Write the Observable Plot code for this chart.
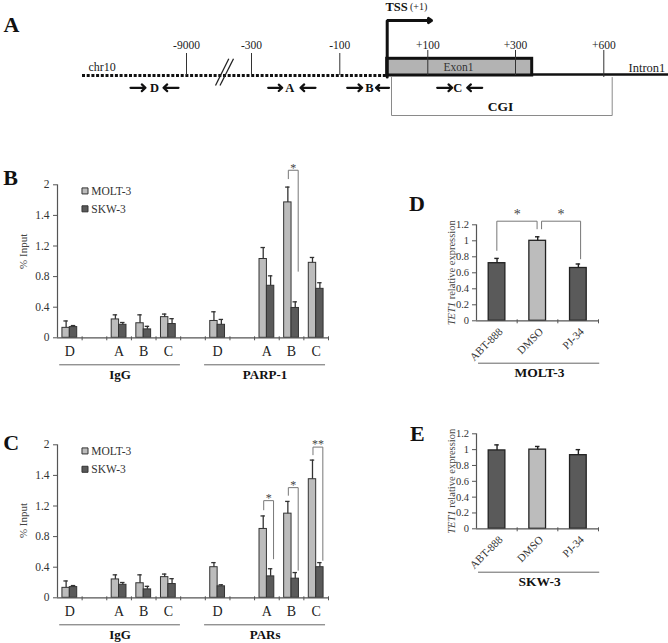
<!DOCTYPE html>
<html>
<head>
<meta charset="utf-8">
<script src="https://cdn.jsdelivr.net/npm/d3@7"></script>
<script src="https://cdn.jsdelivr.net/npm/@observablehq/plot@0.6"></script>
<style>
  html, body { margin: 0; padding: 0; background: #fff; }
  #fig { position: relative; width: 668px; height: 643px; overflow: hidden; font-family: "Liberation Serif", serif; }
  #fig svg { position: absolute; overflow: visible; }
  .plabel { position: absolute; font: bold 22px/22px "Liberation Serif", serif; color: #111; }
</style>
</head>
<body>
<div id="fig"></div>
<script>
// ================= DATA =================
// Panel A (schematic of the TET1 locus)
const coordLabels = ["-9000", "-300", "-100", "+100", "+300", "+600"];
const primerNames = ["D", "A", "B", "C"];

// Panels B and C (ChIP, % input)
const slotLabels = ["D", "", "A", "B", "C", "", "D", "", "A", "B", "C"];
const cellLines = ["MOLT-3", "SKW-3"];
const chipYTicks = [0, 0.4, 0.8, 1.2, 1.6, 2];
const chipYTickLabels = ["0", "0.4", "0.8", "1.2", "1.4", "2"];
const groupsB = ["IgG", "PARP-1"];
const groupsC = ["IgG", "PARs"];

// order: IgG D, A, B, C, then antibody D, A, B, C
const bMolt   = [0.13, 0.24, 0.19, 0.27, 0.22, 1.03, 1.77, 0.98];
const bMoltSd = [0.09, 0.06, 0.11, 0.04, 0.12, 0.15, 0.20, 0.07];
const bSkw    = [0.14, 0.17, 0.11, 0.18, 0.17, 0.68, 0.39, 0.64];
const bSkwSd  = [0.02, 0.03, 0.04, 0.07, 0.07, 0.13, 0.08, 0.08];

const cMolt   = [0.13, 0.24, 0.19, 0.27, 0.40, 0.90, 1.10, 1.55];
const cMoltSd = [0.09, 0.06, 0.11, 0.04, 0.06, 0.17, 0.16, 0.25];
const cSkw    = [0.14, 0.17, 0.11, 0.18, 0.15, 0.28, 0.25, 0.40];
const cSkwSd  = [0.02, 0.03, 0.04, 0.07, 0.02, 0.10, 0.08, 0.06];

// significance brackets: slot, label, bracket top, left-leg end, right-leg end
const sigB = [{slot: 9, label: "*", top: 2.19, left: 2.08, right: 0.87}];
const sigC = [
  {slot: 8, label: "*", top: 1.27, left: 1.15, right: 0.51},
  {slot: 9, label: "*", top: 1.44, left: 1.34, right: 0.36},
  {slot: 10, label: "**", top: 1.97, left: 1.87, right: 0.49}
];

// Panels D and E (TET1 relative expression)
const treatments = ["ABT-888", "DMSO", "PJ-34"];
const exprYTicks = [0, 0.2, 0.4, 0.6, 0.8, 1, 1.2];
const exprYTickLabels = ["0", "0.2", "0.4", "0.6", "0.8", "1", "1.2"];
const dValues = [0.72, 1.00, 0.66];
const dErr    = [0.06, 0.05, 0.05];
const eValues = [0.99, 1.00, 0.93];
const eErr    = [0.07, 0.04, 0.07];
const sigD = [
  {from: 0, to: 1, label: "*", top: 1.245, left: 0.88, right: 1.15},
  {from: 1, to: 2, label: "*", top: 1.245, left: 1.15, right: 0.775}
];

// ================= LAYOUT / STYLE =================
const SERIF = "Liberation Serif, Times New Roman, serif";
const LIGHT = "#bcbcbc", DARK = "#5a5a5a", EDGE = "#333";
const fig = document.getElementById("fig");
function place(svg, left, top) {
  svg.style.left = left + "px";
  svg.style.top = top + "px";
  fig.appendChild(svg);
  return svg;
}
function panelLabel(t, left, top) {
  const d = document.createElement("div");
  d.className = "plabel";
  d.textContent = t;
  d.style.left = left + "px";
  d.style.top = top + "px";
  fig.appendChild(d);
}

// ---------- Panel A ----------
const tickPos = {"-9000": 186, "-300": 251, "-100": 339.3, "+100": 427.3, "+300": 515, "+600": 603.3};
const tickTop = {"-9000": 53, "-300": 53, "-100": 53, "+100": 50, "+300": 50, "+600": 50};
const tickBot = {"-9000": 75, "-300": 75, "-100": 75, "+100": 75, "+300": 75, "+600": 77};
const primerPos = {
  D: {f: [130, 145], t: 154, r: [178, 163]},
  A: {f: [267.7, 281.7], t: 289.3, r: [315, 300]},
  B: {f: [346.7, 361.7], t: 369, r: [388.5, 375.5]},
  C: {f: [436.7, 451.7], t: 457.3, r: [481.7, 466.7]}
};
const TSS = 386.7, EXON_END = 531.7, LINE_Y = 75, PR_Y = 87.3;
const primerArrows = primerNames.flatMap(n => [
  {x1: primerPos[n].f[0], x2: primerPos[n].f[1]},
  {x1: primerPos[n].r[0], x2: primerPos[n].r[1]}
]);

const plotA = Plot.plot({
  width: 668, height: 125, margin: 0,
  style: {fontFamily: SERIF, fontSize: "11px", background: "transparent"},
  x: {domain: [0, 668], range: [0, 668], axis: null},
  y: {domain: [0, 125], range: [0, 125], axis: null},
  marks: [
    // upstream (dotted) region
    Plot.ruleY([LINE_Y], {x1: 82, x2: TSS, stroke: "#111", strokeWidth: 3, strokeDasharray: "3,1.7"}),
    // break marks
    Plot.link([{a: 215, b: 228.3}, {a: 219.5, b: 233}], {x1: "a", y1: 85, x2: "b", y2: 58.3, stroke: "#222", strokeWidth: 1.3}),
    // intron line
    Plot.ruleY([74], {x1: EXON_END, x2: 668, stroke: "#111", strokeWidth: 2.5}),
    // exon box
    Plot.rect([0], {x1: TSS, x2: EXON_END, y1: 58.3, y2: LINE_Y, fill: "#b3b3b3", stroke: "#111", strokeWidth: 3}),
    Plot.text(["Exon1"], {x: 458, y: 66.7, fontSize: 11.5, fill: "#333"}),
    // coordinate ticks
    Plot.ruleX(coordLabels, {x: d => tickPos[d], y1: d => tickTop[d], y2: d => tickBot[d], stroke: "#333", strokeWidth: 1}),
    Plot.text(coordLabels, {x: d => tickPos[d], y: 44.5, text: d => d, fontSize: 11.5, fill: "#222"}),
    Plot.text(["chr10"], {x: 88, y: 67, textAnchor: "start", fontSize: 12, fill: "#222"}),
    Plot.text(["Intron1"], {x: 628, y: 67, textAnchor: "start", fontSize: 12.5, fill: "#222"}),
    // TSS bent arrow
    Plot.line([[TSS, 76.5], [TSS, 20], [428, 20]], {x: d => d[0], y: d => d[1], stroke: "#111", strokeWidth: 3, strokeLinejoin: "miter"}),
    Plot.arrow([0], {x1: 420, y1: 20, x2: 431, y2: 20, stroke: "#111", strokeWidth: 3, headLength: 10, headAngle: 70}),
    Plot.text(["TSS"], {x: 385, y: 6.5, textAnchor: "start", fontWeight: "bold", fontSize: 12.5, fill: "#111"}),
    Plot.text(["(+1)"], {x: 409.5, y: 6.5, textAnchor: "start", fontSize: 10, fill: "#222"}),
    // primers
    Plot.arrow(primerArrows, {x1: "x1", x2: "x2", y1: PR_Y, y2: PR_Y, stroke: "#111", strokeWidth: 2.2, headLength: 7, headAngle: 85}),
    Plot.text(primerNames, {x: d => primerPos[d].t, y: PR_Y, text: d => d, fontWeight: "bold", fontSize: 12.5, fill: "#111"}),
    // CGI
    Plot.line([[391, 76], [391, 115], [611.7, 115], [611.7, 77]], {x: d => d[0], y: d => d[1], stroke: "#8a8a8a", strokeWidth: 1}),
    Plot.text(["CGI"], {x: 500, y: 106.5, fontWeight: "bold", fontSize: 13.5, fill: "#111"})
  ]
});
place(plotA, 0, 0);

// ---------- Panels B & C ----------
function chipPanel({molt, moltSd, skw, skwSd, groups, sig, top, height, labelY, legendY}) {
  const mTop = 24.3, axisY = 177.3;
  const ppu = (axisY - mTop) / 2;          // pixels per unit
  const below = px => -px / ppu;
  const used = [0, 2, 3, 4, 6, 8, 9, 10];
  const rows = used.flatMap((s, i) => [
    {slot: s, k: 0, line: cellLines[0], v: molt[i], e: molt[i] + moltSd[i]},
    {slot: s, k: 1, line: cellLines[1], v: skw[i], e: skw[i] + skwSd[i]}
  ]);
  const cx = d => d.slot + 0.35 + 0.3 * d.k;
  const spans = [[0.09, 4.99], [5.97, 10.88]];
  const bracketPts = sig.flatMap((s, j) => [
    {id: j, x: s.slot + 0.37, y: s.left},
    {id: j, x: s.slot + 0.37, y: s.top},
    {id: j, x: s.slot + 0.77, y: s.top},
    {id: j, x: s.slot + 0.77, y: s.right}
  ]);
  const svg = Plot.plot({
    width: 340, height,
    marginLeft: 57, marginRight: 12, marginTop: mTop, marginBottom: height - axisY,
    style: {fontFamily: SERIF, fontSize: "11px", color: "#333", background: "transparent"},
    x: {domain: [0, 11], axis: null},
    y: {domain: [0, 2], axis: null},
    color: {domain: cellLines, range: [LIGHT, DARK]},
    marks: [
      Plot.axisY({ticks: chipYTicks, tickFormat: (d, i) => chipYTickLabels[i], tickSize: 4, tickPadding: 4, fontSize: 11.5, label: null, stroke: "#555"}),
      Plot.axisX({ticks: d3.range(11).map(i => i + 0.5), tickFormat: (d, i) => slotLabels[i], tickSize: 0, tickPadding: 8.5, fontSize: 14, fill: "#222", label: null}),
      Plot.ruleX(d3.range(1, 12), {x: d => d, y1: below(-1), y2: below(3), stroke: "#555"}),
      Plot.rectY(rows, {x1: d => d.slot + 0.2 + 0.3 * d.k, x2: d => d.slot + 0.5 + 0.3 * d.k, y: "v", fill: "line", stroke: EDGE, strokeWidth: 1}),
      Plot.ruleX(rows, {x: cx, y1: "v", y2: "e", stroke: EDGE, strokeWidth: 1.3}),
      Plot.ruleY(rows, {y: "e", x1: d => cx(d) - 0.09, x2: d => cx(d) + 0.09, stroke: EDGE, strokeWidth: 1.3}),
      Plot.ruleX([0], {stroke: "#555", strokeWidth: 1.2}),
      Plot.ruleY([0], {stroke: "#555", strokeWidth: 1.2}),
      // significance
      Plot.line(bracketPts, {x: "x", y: "y", z: "id", stroke: "#777", strokeWidth: 1}),
      Plot.text(sig, {x: d => d.slot + 0.57, y: "top", text: "label", dy: -2.5, fontSize: 12, fill: "#444"}),
      // legend
      Plot.dot(cellLines, {x: 1.116, y: (d, i) => legendY[i], symbol: "square", r: 3.4, fill: d => d, stroke: EDGE, strokeWidth: 1}),
      Plot.text(cellLines, {x: 1.37, y: (d, i) => legendY[i], text: d => d, textAnchor: "start", fontSize: 11.5, fill: "#333"}),
      // y label
      Plot.text(["% Input"], {x: -1.38, y: labelY, rotate: -90, fontSize: 11, fill: "#444"}),
      // group underlines and names
      Plot.ruleY(spans, {y: below(27), x1: d => d[0], x2: d => d[1], stroke: "#666", strokeWidth: 1}),
      Plot.text(groups, {x: (d, i) => (spans[i][0] + spans[i][1]) / 2, y: below(37), text: d => d, fontWeight: "bold", fontSize: 13, fill: "#111"})
    ]
  });
  return place(svg, 0, top);
}

chipPanel({molt: bMolt, moltSd: bMoltSd, skw: bSkw, skwSd: bSkwSd, groups: groupsB, sig: sigB,
  top: 160, height: 225, labelY: 1.13, legendY: [1.92, 1.686]});
chipPanel({molt: cMolt, moltSd: cMoltSd, skw: cSkw, skwSd: cSkwSd, groups: groupsC, sig: sigC,
  top: 420, height: 223, labelY: 1.01, legendY: [1.92, 1.68]});

// ---------- Panels D & E ----------
function exprPanel({values, errs, sig, cell, top, mTop, axisY, ulY, nameY}) {
  const height = 215;
  const ppu = (axisY - mTop) / 1.2;
  const below = px => -px / ppu;
  const rows = treatments.map((t, i) => ({i, t, v: values[i], e: values[i] + errs[i]}));
  const bracketPts = sig.flatMap((s, j) => [
    {id: j, x: s.from + 0.5 + 0.1 * j, y: s.left},
    {id: j, x: s.from + 0.5 + 0.1 * j, y: s.top},
    {id: j, x: s.to + 0.5 + 0.06 * j - 0.01 * (1 - j), y: s.top},
    {id: j, x: s.to + 0.5 + 0.06 * j - 0.01 * (1 - j), y: s.right}
  ]);
  const svg = Plot.plot({
    width: 288, height,
    marginLeft: 96, marginRight: 70, marginTop: mTop, marginBottom: height - axisY,
    style: {fontFamily: SERIF, fontSize: "10px", color: "#333", background: "transparent"},
    x: {domain: [0, 3], axis: null},
    y: {domain: [0, 1.2], axis: null},
    color: {domain: treatments, range: [DARK, LIGHT, DARK]},
    marks: [
      Plot.axisY({ticks: exprYTicks, tickFormat: (d, i) => exprYTickLabels[i], tickSize: 4, tickPadding: 3.5, fontSize: 10.5, label: null, stroke: "#555"}),
      Plot.ruleX([1, 2, 3], {x: d => d, y1: below(-1), y2: below(3), stroke: "#555"}),
      Plot.rectY(rows, {x1: d => d.i + 0.3, x2: d => d.i + 0.71, y: "v", fill: "t", stroke: "#222", strokeWidth: 1.3}),
      Plot.ruleX(rows, {x: d => d.i + 0.505, y1: "v", y2: "e", stroke: "#222", strokeWidth: 1.4}),
      Plot.ruleY(rows, {y: "e", x1: d => d.i + 0.45, x2: d => d.i + 0.56, stroke: "#222", strokeWidth: 1.4}),
      Plot.ruleX([0], {stroke: "#555", strokeWidth: 1.2}),
      Plot.ruleY([0], {stroke: "#555", strokeWidth: 1.2}),
      Plot.text(treatments, {x: (d, i) => i + 0.5, y: 0, dx: 4, dy: 9, rotate: -45, textAnchor: "end", text: d => d, fontSize: 11, fill: "#333"}),
      Plot.line(bracketPts, {x: "x", y: "y", z: "id", stroke: "#777", strokeWidth: 1}),
      Plot.text(sig, {x: (d, j) => (d.from + d.to) / 2 + 0.5 + 0.08 * j, y: "top", text: "label", dy: -6.5, fontSize: 14, fill: "#444"}),
      Plot.text(["TET1 relative expression"], {x: -0.62, y: 0.6, rotate: -90, fontSize: 10.5, fill: "#444"}),
      Plot.ruleY([below(ulY)], {x1: 0.05, x2: 3.03, stroke: "#666", strokeWidth: 1}),
      Plot.text([cell], {x: 1.55, y: below(nameY), text: d => d, fontWeight: "bold", fontSize: 13.5, fill: "#111"})
    ]
  });
  // italic gene symbol inside the axis title
  d3.select(svg).selectAll("text").filter(function() { return this.textContent === "TET1 relative expression"; })
    .each(function() {
      const t = d3.select(this);
      t.text(null);
      t.append("tspan").attr("font-style", "italic").text("TET1");
      t.append("tspan").text(" relative expression");
    });
  return place(svg, 380, top);
}

exprPanel({values: dValues, errs: dErr, sig: sigD, cell: "MOLT-3", top: 170, mTop: 54.3, axisY: 150.3, ulY: 42.4, nameY: 51.4});
exprPanel({values: eValues, errs: eErr, sig: [], cell: "SKW-3", top: 380, mTop: 53.3, axisY: 148.3, ulY: 43.4, nameY: 52.7});

// panel letters
panelLabel("A", 3.5, 13.6);
panelLabel("B", 3.3, 166.6);
panelLabel("C", 3.3, 431.6);
panelLabel("D", 409, 192.6);
panelLabel("E", 410, 422.6);
</script>
</body>
</html>
